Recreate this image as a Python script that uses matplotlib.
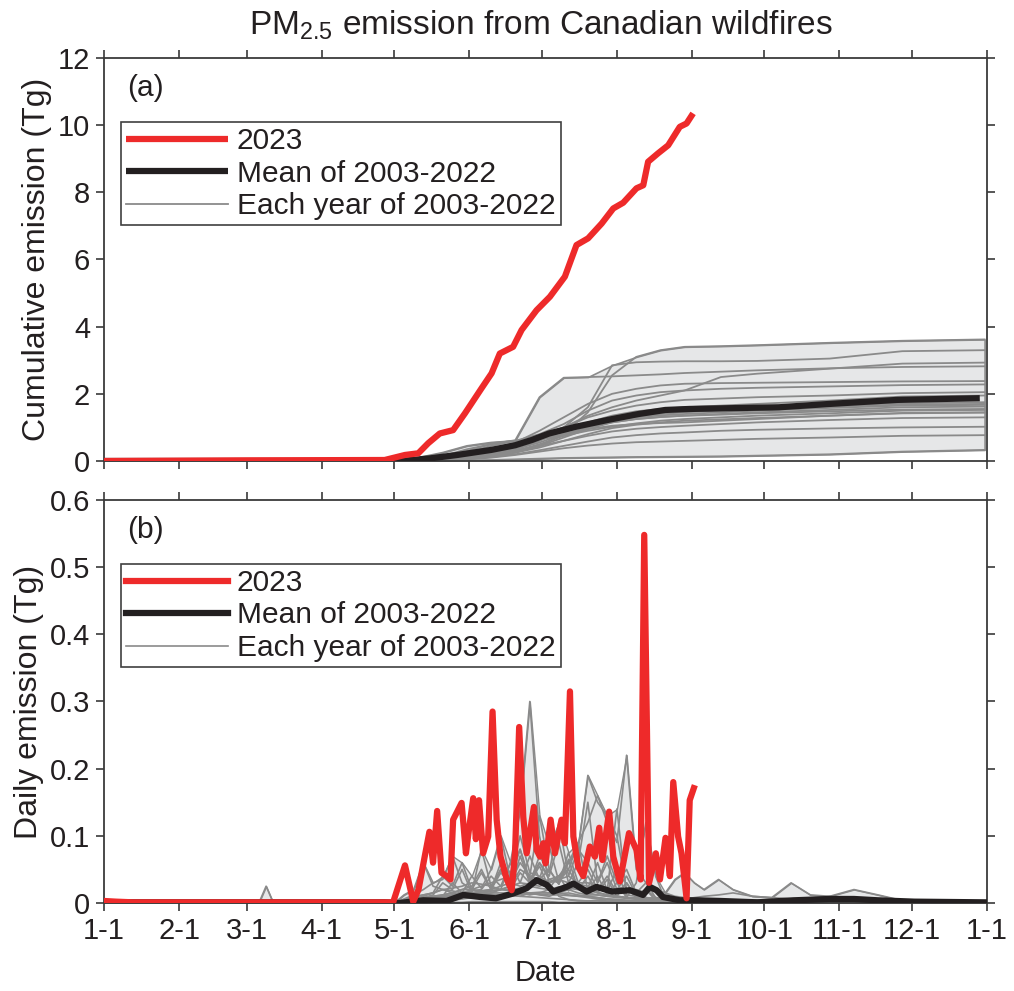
import numpy as np
import matplotlib
matplotlib.use("Agg")
import matplotlib.pyplot as plt

plt.rcParams['font.family'] = ['Liberation Sans', 'DejaVu Sans']
plt.rcParams['mathtext.fontset'] = 'custom'
plt.rcParams['mathtext.rm'] = 'Liberation Sans'

# ---------------- data ----------------
month_ticks = [0, 31, 59, 90, 120, 151, 181, 212, 243, 273, 304, 334, 365]
month_labels = ['1-1', '2-1', '3-1', '4-1', '5-1', '6-1', '7-1', '8-1', '9-1',
                '10-1', '11-1', '12-1', '1-1']

# 2023 cumulative (Tg)
cum23_day = [0, 60, 116, 124.4, 129.9, 134, 138.8, 144.3, 149.2, 156, 160.2, 163.6,
             169.1, 172.6, 178.8, 184.3, 190.5, 195.3, 200.1, 205.7, 210.5, 214.6,
             220.1, 222.9, 224.9, 229, 233.2, 238, 240.8, 243.5]
cum23_val = [0.0, 0.02, 0.03, 0.18, 0.23, 0.53, 0.82, 0.92, 1.42, 2.16, 2.61, 3.2,
             3.4, 3.9, 4.49, 4.89, 5.49, 6.43, 6.63, 7.07, 7.52, 7.69,
             8.12, 8.21, 8.91, 9.16, 9.4, 9.95, 10.05, 10.35]

# mean 2003-2022 cumulative (Tg)
cummean_day = [0, 115, 124, 135, 146, 160, 170, 177, 184, 195, 208, 221, 232, 242,
               279, 300, 328, 362]
cummean_val = [0.0, 0.0, 0.01, 0.08, 0.18, 0.33, 0.47, 0.63, 0.82, 1.02, 1.22, 1.40,
               1.52, 1.55, 1.60, 1.70, 1.82, 1.87]

# each year 2003-2022, cumulative at knot days (Tg)
cumyear_day = [0, 120, 130, 140, 150, 160, 170, 180, 190, 200, 210, 220, 230, 240,
               255, 270, 300, 330, 364]
cum_y01 = [0, 0, 0.01, 0.03, 0.06, 0.12, 0.25, 0.45, 0.8, 1.45, 2.55, 3.1, 3.3, 3.4, 3.42, 3.45, 3.52, 3.58, 3.62]
cum_y02 = [0, 0, 0.02, 0.06, 0.15, 0.3, 0.5, 0.75, 1.0, 1.6, 2.85, 2.94, 2.96, 2.97, 2.97, 2.98, 3.05, 3.27, 3.30]
cum_y03 = [0, 0, 0.01, 0.04, 0.1, 0.2, 0.4, 0.7, 1.0, 1.35, 1.6, 1.8, 1.95, 2.1, 2.5, 2.6, 2.75, 2.9, 2.93]
cum_y04 = [0, 0, 0.05, 0.15, 0.35, 0.5, 0.62, 1.9, 2.48, 2.5, 2.52, 2.55, 2.58, 2.62, 2.66, 2.7, 2.76, 2.8, 2.82]
cum_y05 = [0, 0, 0.02, 0.08, 0.2, 0.35, 0.55, 0.9, 1.3, 1.7, 2.0, 2.15, 2.25, 2.30, 2.32, 2.33, 2.35, 2.37, 2.38]
cum_y06 = [0, 0, 0.03, 0.1, 0.25, 0.45, 0.6, 0.8, 1.1, 1.5, 1.8, 1.95, 2.05, 2.10, 2.15, 2.18, 2.22, 2.26, 2.28]
cum_y07 = [0, 0, 0.02, 0.05, 0.12, 0.25, 0.45, 0.7, 1.0, 1.3, 1.5, 1.65, 1.75, 1.82, 1.86, 1.9, 1.95, 2.02, 2.05]
cum_y08 = [0, 0, 0.01, 0.04, 0.1, 0.2, 0.35, 0.6, 0.9, 1.15, 1.35, 1.48, 1.55, 1.60, 1.65, 1.70, 1.80, 1.92, 1.95]
cum_y09 = [0, 0, 0.02, 0.06, 0.15, 0.3, 0.45, 0.65, 0.9, 1.1, 1.25, 1.38, 1.45, 1.50, 1.55, 1.58, 1.65, 1.72, 1.75]
cum_y10 = [0, 0, 0.01, 0.03, 0.08, 0.15, 0.3, 0.5, 0.75, 1.0, 1.2, 1.33, 1.40, 1.45, 1.5, 1.55, 1.62, 1.68, 1.70]
cum_y11 = [0, 0, 0.04, 0.12, 0.3, 0.5, 0.6, 0.7, 0.85, 1.05, 1.2, 1.3, 1.36, 1.40, 1.45, 1.5, 1.58, 1.65, 1.67]
cum_y12 = [0, 0, 0.02, 0.05, 0.12, 0.22, 0.35, 0.55, 0.8, 1.0, 1.15, 1.25, 1.31, 1.35, 1.4, 1.45, 1.52, 1.6, 1.62]
cum_y13 = [0, 0, 0.01, 0.04, 0.1, 0.18, 0.3, 0.45, 0.7, 0.95, 1.15, 1.25, 1.31, 1.35, 1.38, 1.42, 1.48, 1.53, 1.55]
cum_y14 = [0, 0, 0.1, 0.25, 0.45, 0.55, 0.6, 0.65, 0.75, 0.9, 1.02, 1.12, 1.2, 1.25, 1.3, 1.35, 1.42, 1.5, 1.52]
cum_y15 = [0, 0, 0.01, 0.03, 0.07, 0.15, 0.25, 0.4, 0.6, 0.8, 0.98, 1.08, 1.15, 1.20, 1.24, 1.28, 1.35, 1.43, 1.45]
cum_y16 = [0, 0, 0.03, 0.08, 0.2, 0.35, 0.5, 0.65, 0.8, 0.95, 1.05, 1.1, 1.13, 1.15, 1.2, 1.25, 1.35, 1.42, 1.44]
cum_y17 = [0, 0, 0.01, 0.04, 0.1, 0.2, 0.32, 0.45, 0.6, 0.75, 0.88, 0.96, 1.01, 1.05, 1.1, 1.15, 1.22, 1.28, 1.30]
cum_y18 = [0, 0, 0.01, 0.03, 0.06, 0.12, 0.2, 0.32, 0.45, 0.58, 0.7, 0.77, 0.82, 0.85, 0.9, 0.93, 0.97, 1.0, 1.02]
cum_y19 = [0, 0, 0.01, 0.02, 0.05, 0.1, 0.18, 0.28, 0.38, 0.46, 0.52, 0.56, 0.58, 0.60, 0.63, 0.66, 0.7, 0.75, 0.77]
cum_y20 = [0, 0, 0, 0.01, 0.02, 0.03, 0.05, 0.07, 0.09, 0.1, 0.11, 0.12, 0.125, 0.13, 0.14, 0.16, 0.2, 0.28, 0.33]

# 2023 daily (Tg)
day23_day = [0, 5, 12, 40, 80, 119.5, 124.4, 127.8, 130, 132.6, 134.5, 136, 137.7, 139.5, 141.6,
             143.2, 144.3, 147.8, 149.6, 150.5, 152.6, 153.7, 155, 156.7, 158.8, 160.6, 162.3,
             163.9, 166.5, 168.5, 169.9, 171.6, 173.3, 174.7, 177.7, 178.8, 180.2, 181.6, 182.5,
             184.6, 186.4, 189.1, 190.5, 192.6, 194, 196, 198.1, 200.8, 202.9, 204.7, 206,
             208.8, 210.5, 213.2, 217, 220.1, 221.8, 223.3, 225.3, 228.1, 229.8, 232.1, 233.9,
             235.3, 237.3, 238.7, 240.8, 242.1, 243.8]
day23_val = [0.003, 0.002, 0.001, 0.001, 0.001, 0.001, 0.056, 0.002, 0.02, 0.07, 0.106, 0.06, 0.137, 0.045, 0.04,
             0.035, 0.124, 0.149, 0.074, 0.10, 0.156, 0.095, 0.153, 0.074, 0.099, 0.285, 0.124,
             0.069, 0.035, 0.019, 0.074, 0.262, 0.128, 0.074, 0.143, 0.079, 0.069, 0.089, 0.059,
             0.124, 0.074, 0.124, 0.089, 0.315, 0.099, 0.054, 0.04, 0.084, 0.069, 0.112, 0.064,
             0.136, 0.069, 0.032, 0.104, 0.079, 0.035, 0.548, 0.03, 0.074, 0.035, 0.097, 0.04,
             0.18, 0.099, 0.074, 0.007, 0.153, 0.171]

# mean 2003-2022 daily (Tg)
daymean_day = [0, 60, 116, 122, 132, 141.6, 148.5, 155.4, 162, 169, 174.7, 178.8, 183, 185.7,
               191.2, 194, 199.5, 203.6, 210, 217.4, 222.8, 225.6, 228.4, 231, 238, 245,
               255, 270, 285, 300, 310, 320, 335, 364]
daymean_val = [0.001, 0.001, 0.001, 0.0, 0.004, 0.003, 0.012, 0.009, 0.007, 0.014, 0.022, 0.034, 0.027, 0.017,
               0.024, 0.029, 0.017, 0.024, 0.017, 0.019, 0.012, 0.024, 0.019, 0.009, 0.004, 0.004,
               0.003, 0.001, 0.004, 0.006, 0.006, 0.004, 0.002, 0.001]

# each year 2003-2022, daily at sample days (Tg)
dayyear_day = [0, 64, 67, 70, 116,
               120, 124, 128, 132, 136, 140, 144, 148, 152, 156, 160, 164, 168, 172, 176, 180,
               184, 188, 192, 196, 200, 204, 208, 212, 216, 220, 224, 228, 232, 236, 240, 244, 248,
               254, 260, 268, 276, 284, 292, 300, 310, 320, 332, 364]
d_y01 = [0, 0, 0, 0, 0,
         0, .002, .003, .005, .004, .006, .008, .01, .012, .01, .015, .02, .018, .02, .025, .03, .035, .04, .05, .09, .12, .16, .12, .09, .22, .05, .03, .02, .015, .01, .008, .006, .005,
         .004, .003, .003, .002, .002, .003, .004, .003, .002, .001, 0]
d_y02 = [0, 0, 0, 0, 0,
         0, .003, .005, .008, .01, .012, .015, .02, .02, .018, .02, .025, .03, .025, .03, .035, .03, .04, .06, .08, .19, .15, .13, .1, .02, .01, .008, .006, .005, .004, .003, .003, .002,
         .002, .002, .002, .003, .004, .006, .01, .02, .012, .002, 0]
d_y03 = [0, 0, 0, 0, 0,
         0, 0, .002, .004, .006, .01, .012, .015, .02, .025, .03, .035, .04, .1, .045, .04, .03, .035, .04, .03, .03, .025, .02, .02, .018, .02, .015, .02, .015, .035, .045, .03, .02,
         .035, .02, .01, .008, .006, .005, .005, .004, .003, .002, 0]
d_y04 = [0, 0, 0, 0, 0,
         0, .005, .01, .012, .015, .02, .022, .025, .03, .028, .025, .02, .06, .14, .3, .1, .03, .01, .005, .003, .003, .004, .003, .003, .002, .003, .003, .004, .004, .003, .003, .002, .002,
         .002, .002, .002, .002, .002, .001, .001, .001, .001, .001, 0]
d_y05 = [0, 0, 0, 0, 0,
         0, .002, .004, .006, .01, .012, .015, .02, .025, .05, .02, .06, .045, .08, .03, .07, .045, .12, .04, .08, .06, .03, .07, .03, .05, .015, .03, .008, .006, .004, .003, .002, .002,
         .002, .001, .001, .001, .001, .001, .001, .001, .001, .001, 0]
d_y06 = [0, 0, 0, 0, 0,
         0, .003, .006, .01, .015, .04, .025, .06, .02, .045, .02, .05, .02, .07, .03, .06, .04, .09, .03, .06, .15, .03, .06, .02, .04, .012, .02, .008, .007, .006, .005, .004, .004,
         .003, .003, .004, .004, .003, .003, .002, .002, .002, .001, 0]
d_y07 = [0, 0, 0, 0, 0,
         0, .002, .003, .005, .008, .01, .03, .015, .04, .022, .05, .1, .035, .08, .035, .06, .035, .03, .075, .03, .05, .02, .04, .015, .03, .01, .008, .007, .006, .005, .004, .004, .003,
         .003, .003, .002, .002, .002, .002, .003, .003, .002, .001, 0]
d_y08 = [0, 0, 0, 0, 0,
         0, .001, .003, .004, .006, .008, .01, .012, .015, .018, .02, .045, .03, .06, .04, .13, .05, .028, .065, .02, .04, .015, .035, .01, .03, .006, .02, .004, .004, .005, .006, .008, .01,
         .012, .015, .01, .008, .03, .012, .01, .006, .003, .002, 0]
d_y09 = [0, 0, 0, 0, 0,
         0, .002, .005, .008, .012, .03, .02, .05, .015, .08, .025, .05, .02, .045, .03, .055, .022, .04, .018, .03, .015, .012, .01, .008, .007, .006, .005, .004, .004, .004, .003, .003, .003,
         .003, .003, .002, .002, .002, .002, .003, .002, .002, .001, 0]
d_y10 = [0, 0, 0, 0, 0,
         0, 0, .002, .003, .005, .006, .008, .01, .012, .015, .018, .02, .025, .03, .028, .025, .03, .035, .03, .028, .025, .02, .018, .14, .012, .01, .008, .006, .005, .004, .004, .003, .003,
         .003, .003, .002, .002, .002, .002, .002, .002, .001, .001, 0]
d_y11 = [0, 0, 0, 0, 0,
         0, .006, .012, .02, .03, .035, .07, .03, .02, .015, .012, .01, .012, .01, .015, .012, .01, .015, .02, .025, .02, .015, .012, .01, .008, .006, .006, .005, .004, .004, .004, .003, .003,
         .003, .003, .003, .003, .003, .003, .003, .002, .002, .001, 0]
d_y12 = [0, 0, 0, 0, 0,
         0, .002, .004, .006, .008, .01, .012, .015, .018, .02, .04, .025, .06, .03, .07, .035, .05, .028, .06, .09, .018, .04, .012, .03, .008, .007, .006, .005, .005, .004, .004, .003, .003,
         .003, .003, .003, .003, .003, .002, .002, .002, .002, .001, 0]
d_y13 = [0, 0, 0, 0, 0,
         0, .001, .002, .004, .006, .008, .01, .012, .014, .015, .018, .02, .025, .05, .04, .035, .085, .032, .05, .025, .022, .06, .018, .05, .008, .03, .12, .04, .004, .003, .003, .002, .002,
         .002, .002, .002, .002, .002, .002, .002, .002, .001, .001, 0]
d_y14 = [0, 0, 0, 0, 0,
         0, .012, .02, .06, .025, .02, .015, .012, .01, .008, .008, .01, .012, .015, .012, .015, .02, .018, .02, .015, .012, .012, .01, .01, .008, .008, .006, .006, .005, .005, .004, .004, .003,
         .003, .003, .003, .003, .003, .003, .003, .002, .002, .001, 0]
d_y15 = [0, 0, 0, 0, 0,
         0, .001, .002, .003, .005, .007, .01, .012, .014, .016, .018, .02, .02, .022, .025, .022, .02, .024, .022, .02, .018, .016, .012, .01, .008, .006, .005, .004, .004, .003, .003, .003, .003,
         .002, .002, .002, .002, .002, .002, .002, .002, .001, .001, 0]
d_y16 = [0, 0, .025, 0, 0,
         0, .004, .008, .012, .015, .02, .018, .015, .015, .015, .015, .015, .015, .015, .015, .015, .015, .015, .012, .01, .01, .008, .006, .005, .004, .003, .003, .003, .003, .003, .003, .003, .003,
         .003, .003, .004, .004, .004, .003, .003, .003, .002, .001, 0]
d_y17 = [0, 0, 0, 0, 0,
         0, .001, .002, .003, .005, .007, .01, .012, .013, .014, .013, .012, .013, .014, .015, .016, .015, .014, .015, .012, .01, .008, .006, .005, .004, .004, .003, .003, .003, .003, .003, .002, .002,
         .002, .002, .002, .002, .002, .002, .002, .002, .001, .001, 0]
d_y18 = [0, 0, 0, 0, 0,
         0, .001, .002, .002, .003, .004, .005, .007, .008, .01, .012, .012, .013, .013, .014, .013, .012, .012, .011, .01, .008, .006, .005, .004, .003, .003, .002, .002, .002, .002, .002, .002, .002,
         .001, .001, .001, .001, .001, .001, .001, .001, .001, .001, 0]
d_y19 = [0, 0, 0, 0, 0,
         0, 0, .001, .001, .002, .003, .004, .006, .008, .009, .01, .01, .011, .01, .009, .008, .007, .006, .005, .004, .003, .003, .002, .002, .002, .002, .002, .002, .002, .002, .002, .002, .002,
         .002, .001, .001, .001, .001, .001, .001, .001, .001, .001, 0]
d_y20 = [0, 0, 0, 0, 0,
         0, 0, 0, 0, .001, .001, .001, .001, .002, .002, .002, .002, .002, .002, .002, .002, .002, .001, .001, .001, .001, .001, .001, .001, .001, .001, .001, .001, .001, .001, .001, .001, .001,
         .001, .001, .001, .001, .002, .002, .002, .003, .003, .002, 0]

cum_years = [cum_y01, cum_y02, cum_y03, cum_y04, cum_y05, cum_y06, cum_y07, cum_y08, cum_y09, cum_y10,
             cum_y11, cum_y12, cum_y13, cum_y14, cum_y15, cum_y16, cum_y17, cum_y18, cum_y19, cum_y20]
day_years = [d_y01, d_y02, d_y03, d_y04, d_y05, d_y06, d_y07, d_y08, d_y09, d_y10,
             d_y11, d_y12, d_y13, d_y14, d_y15, d_y16, d_y17, d_y18, d_y19, d_y20]

# ---------------- style ----------------
RED = '#EE2A2A'
BLACK = '#231F20'
GRAY = '#8A8A8A'
FILL = '#E6E7E8'
AXC = '#3A3A3A'
TXT = '#231F20'
FS_TICK = 21
FS_LEG = 21.5
FS_LAB = 23

fig = plt.figure(figsize=(10.14, 9.91), dpi=100)
ax1 = fig.add_axes([0.1026, 0.5348, 0.8708, 0.4067])
ax2 = fig.add_axes([0.1026, 0.0888, 0.8708, 0.4067])


def style(ax):
    for s in ax.spines.values():
        s.set_color(AXC)
        s.set_linewidth(1.3)
    ax.tick_params(direction='out', length=6, width=1.2, colors=AXC, labelcolor=TXT,
                   labelsize=FS_TICK, top=True, right=True, pad=4)
    ax.set_xlim(0, 365)
    ax.set_xticks(month_ticks)


leg_kw = dict(loc='upper left', fontsize=FS_LEG, frameon=True, fancybox=False,
              edgecolor='#404040', framealpha=1, borderaxespad=0, handlelength=3.4,
              handletextpad=0.3, labelspacing=0.15, borderpad=0.18)


def add_legend(ax):
    h, l = ax.get_legend_handles_labels()
    order = [l.index('2023'), l.index('Mean of 2003-2022'), l.index('Each year of 2003-2022')]
    lg = ax.legend([h[i] for i in order], [l[i] for i in order],
                   bbox_to_anchor=(0.019, 0.842), **leg_kw)
    lg.get_frame().set_linewidth(1.2)
    for t in lg.get_texts():
        t.set_color(TXT)


# ---- top panel: cumulative ----
cy = np.array(cum_years)
ax1.fill_between(cumyear_day, cy.min(axis=0), cy.max(axis=0), facecolor=FILL,
                 edgecolor=GRAY, linewidth=1.2, zorder=1)
for i, yv in enumerate(cum_years):
    ax1.plot(cumyear_day, yv, color=GRAY, lw=1.3, zorder=2,
             label='Each year of 2003-2022' if i == 0 else None)
ax1.plot(cummean_day, cummean_val, color=BLACK, lw=4.5, zorder=3,
         label='Mean of 2003-2022', solid_capstyle='butt')
ax1.plot(cum23_day, cum23_val, color=RED, lw=4.5, zorder=4, label='2023',
         solid_capstyle='butt')
style(ax1)
ax1.set_xticklabels([])
ax1.set_ylim(0, 12)
ax1.set_yticks([0, 2, 4, 6, 8, 10, 12])
ax1.set_ylabel('Cumulative emission (Tg)', fontsize=FS_LAB, color=TXT, labelpad=4)
ax1.text(0.026, 0.96, '(a)', transform=ax1.transAxes, fontsize=FS_LEG, color=TXT,
         va='top', ha='left')
add_legend(ax1)

# ---- bottom panel: daily ----
dy = np.array(day_years)
ax2.fill_between(dayyear_day, dy.min(axis=0), dy.max(axis=0), facecolor=FILL,
                 edgecolor=GRAY, linewidth=1.0, zorder=1)
for i, yv in enumerate(day_years):
    ax2.plot(dayyear_day, yv, color=GRAY, lw=1.2, zorder=2,
             label='Each year of 2003-2022' if i == 0 else None)
ax2.plot(daymean_day, daymean_val, color=BLACK, lw=4.5, zorder=3, label='Mean of 2003-2022')
ax2.plot(day23_day, day23_val, color=RED, lw=4.5, zorder=4, label='2023')
style(ax2)
ax2.set_xticklabels(month_labels)
ax2.set_ylim(0, 0.6)
ax2.set_yticks([0, 0.1, 0.2, 0.3, 0.4, 0.5, 0.6])
ax2.set_yticklabels(['0', '0.1', '0.2', '0.3', '0.4', '0.5', '0.6'])
ax2.set_ylabel('Daily emission (Tg)', fontsize=FS_LAB, color=TXT, labelpad=4)
ax2.set_xlabel('Date', fontsize=FS_TICK, color=TXT, labelpad=10)
ax2.text(0.026, 0.96, '(b)', transform=ax2.transAxes, fontsize=FS_LEG, color=TXT,
         va='top', ha='left')
add_legend(ax2)

fig.text(0.5335, 0.975, r'PM$_{\mathrm{2.5}}$ emission from Canadian wildfires',
         ha='center', va='center', fontsize=24, color=TXT)

fig.savefig('out.png', dpi=100)
